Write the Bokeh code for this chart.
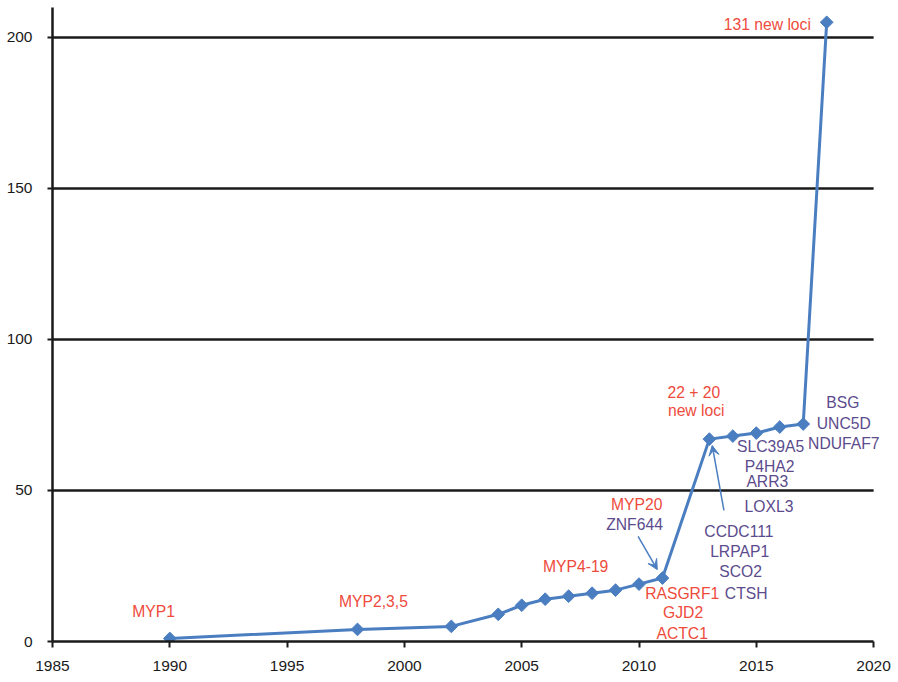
import numpy as np
from bokeh.plotting import figure
from bokeh.models import ColumnDataSource, Range1d, FixedTicker, Arrow, VeeHead, LabelSet
from bokeh.core.properties import value
from bokeh.embed import file_html
from bokeh.resources import INLINE

# ---- data ----
years = [1990, 1998, 2002, 2004, 2005, 2006, 2007, 2008, 2009, 2010, 2011,
         2013, 2014, 2015, 2016, 2017, 2018]
loci = [1, 4, 5, 9, 12, 14, 15, 16, 17, 19, 21, 67, 68, 69, 71, 72, 205]

x_ticks = [1985, 1990, 1995, 2000, 2005, 2010, 2015, 2020]
y_ticks = [0, 50, 100, 150, 200]

label_text = ["MYP1", "MYP2,3,5", "MYP4-19", "MYP20", "ZNF644",
              "RASGRF1", "GJD2", "ACTC1",
              "CTSH", "SCO2", "LRPAP1", "CCDC111",
              "LOXL3", "ARR3", "P4HA2", "SLC39A5",
              "BSG", "UNC5D", "NDUFAF7",
              "22 + 20", "new loci", "131 new loci"]
label_x = [1989.31, 1998.68, 2007.30, 2009.90, 2009.81,
           2011.84, 2011.88, 2011.84,
           2014.57, 2014.33, 2014.29, 2014.26,
           2015.54, 2015.47, 2015.57, 2015.61,
           2018.69, 2018.73, 2018.73,
           2012.34, 2012.44, 2015.47]
label_y = [9.9, 13.2, 24.8, 45.4, 38.7,
           16.0, 9.6, 2.7,
           16.0, 23.2, 29.8, 36.4,
           44.7, 53.0, 57.9, 64.6,
           79.1, 72.3, 65.5,
           82.5, 76.5, 204.3]
RED = "#EE4B3C"
PURPLE = "#5B4B8D"
label_kind = ["r", "r", "r", "r", "p",
              "r", "r", "r",
              "p", "p", "p", "p",
              "p", "p", "p", "p",
              "p", "p", "p",
              "r", "r", "r"]

# arrows: (x_start, y_start, x_end, y_end)
arrow_x0 = [2009.96, 2013.62]
arrow_y0 = [34.8, 43.4]
arrow_x1 = [2010.78, 2013.12]
arrow_y1 = [23.8, 64.9]

BLUE = "#4A7EC0"
DARK = "#1a1a1a"
FONT = "Liberation Sans"

x_lo, x_hi = x_ticks[0], x_ticks[-1]

# frame extends a little beyond 2020 so right-hand labels are not clipped
p = figure(width=898, height=682, output_backend="svg", toolbar_location=None,
           x_range=Range1d(x_lo, x_hi + 0.72), y_range=Range1d(0, 209.9),
           min_border_left=52, min_border_right=8, min_border_top=7,
           min_border_bottom=41)
p.outline_line_color = None
p.background_fill_color = "white"
p.border_fill_color = "white"

# axes
for ax in (p.xaxis[0], p.yaxis[0]):
    ax.axis_line_color = DARK
    ax.axis_line_width = 2.5
    ax.major_tick_line_color = DARK
    ax.major_tick_line_width = 2
    ax.major_tick_in = 0
    ax.minor_tick_line_color = None
    ax.major_label_text_font = FONT
    ax.major_label_text_font_size = "15.5px"
    ax.major_label_text_color = DARK

p.xaxis.ticker = FixedTicker(ticks=x_ticks)
p.xaxis.bounds = (x_lo, x_hi)
p.xaxis.major_tick_out = 6
p.xaxis.major_label_standoff = 13
p.yaxis.ticker = FixedTicker(ticks=y_ticks)
p.yaxis.major_tick_out = 5
p.yaxis.major_label_standoff = 15

p.xgrid.grid_line_color = None
p.ygrid.grid_line_color = None

# horizontal gridlines, spanning 1985..2020 only
gy = y_ticks[1:]
p.segment(x0=[x_lo] * len(gy), x1=[x_hi] * len(gy), y0=gy, y1=gy,
          line_color=DARK, line_width=2.5, line_cap="butt")

# series
src = ColumnDataSource(dict(x=years, y=loci))
p.line("x", "y", source=src, line_color=BLUE, line_width=3)
p.scatter("x", "y", source=src, marker="square", angle=np.pi / 4, size=9,
          fill_color=BLUE, line_color=BLUE)

# labels
lsrc = ColumnDataSource(dict(x=label_x, y=label_y, t=label_text,
                             c=[RED if k == "r" else PURPLE for k in label_kind]))
p.add_layout(LabelSet(x="x", y="y", text="t", source=lsrc, text_color="c",
                      text_font=value(FONT), text_font_size="15.7px",
                      text_align="center", text_baseline="middle"))

# arrows
for xs, ys, xe, ye in zip(arrow_x0, arrow_y0, arrow_x1, arrow_y1):
    p.add_layout(Arrow(x_start=xs, y_start=ys, x_end=xe, y_end=ye,
                       line_color=BLUE, line_width=1.5,
                       end=VeeHead(size=10, fill_color=BLUE, line_color=BLUE,
                                   line_width=1)))

open("out.html", "w").write(file_html(p, INLINE))
